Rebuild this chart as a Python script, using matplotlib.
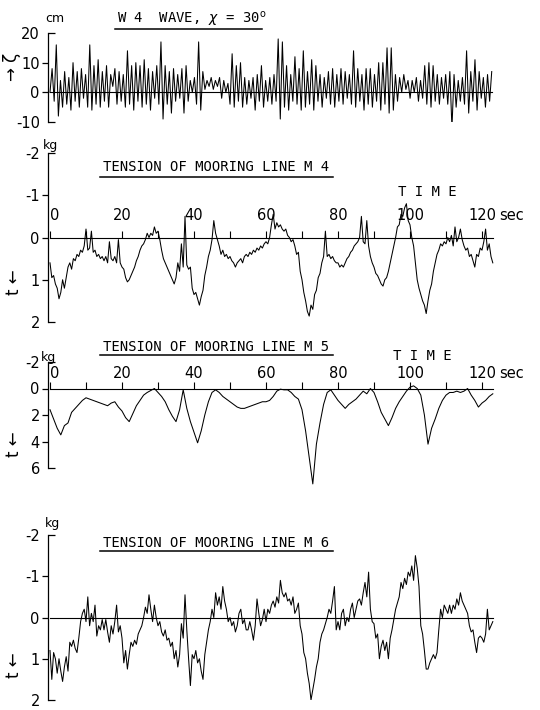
import numpy as np
import matplotlib
matplotlib.use("Agg")
import matplotlib.pyplot as plt
from matplotlib.lines import Line2D

plt.rcParams["font.family"] = ["DejaVu Sans Mono", "DejaVu Sans"]
plt.rcParams["axes.unicode_minus"] = False
plt.rcParams["mathtext.fontset"] = "dejavusans"

# =========================================================
# DATA
# =========================================================

# wave elevation, cm - successive crests / troughs
wave_cm = [
    0, 8, -3, 16, -8, 4, -5, 7, -4, 5, -6, 10, -3, 7, -5, 8, -2, 6,
    -5, 16, -6, 9, -4, 11, -5, 7, -3, 9, -5, 6, 2, 8, -4, 7, -3, 6,
    -5, 14, -4, 9, -6, 10, -3, 9, -5, 11, -4, 8, -6, 7, -2, 9, -4, 17,
    -9, 9, -4, 7, -7, 8, -3, 6, -2, 8, -7, 9, -3, 4, 0, 5, -4, 17,
    -6, 7, 1, 4, 2, 5, 1, 4, 2, 5, -2, 4, 0, 3, -4, 13, -5, 9,
    -3, 10, -5, 5, -4, 4, -2, 5, -6, 6, -3, 9, -5, 4, -3, 5, -4, 6,
    -3, 18, -9, 17, -5, 9, -6, 6, -3, 12, -4, 8, -6, 14, -5, 7, -4, 11,
    -6, 9, -3, 6, -5, 5, -2, 7, -4, 8, -5, 6, -3, 8, -4, 7, -2, 6,
    -4, 14, -5, 8, -3, 6, -6, 8, -4, 8, -5, 6, -3, 10, -6, 10, -4, 15,
    -7, 15, -6, 6, -3, 5, 0, 6, 1, 4, -2, 4, 0, 5, -3, 4, -2, 9,
    -4, 10, -5, 9, -3, 6, -4, 5, -2, 6, -4, 7, -12, 6, -5, 4, -3, 5,
    -4, 14, -7, 7, -3, 11, -6, 7, -2, 5, -5, 6, -3, 7,
]

# tension M4, kg (every 0.5 s)
m4_kg = [
    0.6, 0.95, 0.9, 1.1, 1.2, 1.45, 1.3, 1.0, 1.2, 0.95,
    0.7, 0.6, 0.75, 0.5, 0.55, 0.4, 0.45, 0.3, 0.35, 0.2,
    -0.2, 0.3, 0.25, -0.15, 0.35, 0.3, 0.45, 0.4, 0.5, 0.45,
    0.55, 0.45, 0.6, 0.1, 0.5, 0.55, 0.45, 0.6, 0.05, 0.6,
    0.7, 0.75, 0.95, 1.05, 1.0, 0.9, 0.8, 0.7, 0.55, 0.45,
    0.3, 0.2, 0.15, 0.05, -0.1, 0.0, -0.1, -0.05, -0.25, -0.1,
    -0.15, 0.05, 0.3, 0.5, 0.6, 0.7, 0.8, 0.9, 1.0, 1.1,
    0.95, 0.6, 0.8, 0.15, 0.7, -0.5, 0.65, 0.75, 0.7, 1.2,
    1.35, 1.3, 1.45, 1.6, 1.4, 1.25, 0.9, 0.7, 0.45, 0.3,
    0.05, -0.4, -0.1, 0.05, 0.2, 0.4, 0.3, 0.45, 0.4, 0.5,
    0.45, 0.55, 0.6, 0.7, 0.6, 0.55, 0.5, 0.6, 0.45, 0.4,
    0.45, 0.35, 0.4, 0.3, 0.35, 0.25, 0.3, 0.2, 0.25, 0.15,
    0.1, 0.15, 0.0, -0.3, -0.55, -0.2, -0.35, -0.25, -0.3, -0.2,
    -0.15, -0.2, -0.05, 0.0, 0.1, 0.05, 0.2, 0.4, 0.35, 0.8,
    1.0, 1.3, 1.5, 1.75, 1.86, 1.6, 1.7, 1.35, 1.25, 0.95,
    0.85, 0.6, 0.45, -0.15, 0.45, 0.4, 0.5, 0.45, 0.55, 0.6,
    0.6, 0.7, 0.65, 0.7, 0.6, 0.5, 0.45, 0.35, 0.3, 0.2,
    0.15, 0.1, 0.0, -0.5, 0.1, 0.15, -0.4, 0.2, 0.45, 0.6,
    0.7, 0.85, 0.9, 1.0, 1.1, 1.15, 1.0, 0.95, 0.8, 0.6,
    0.4, 0.2, 0.0, -0.25, -0.3, -0.55, -0.5, -0.7, -0.8, -0.4,
    -0.3, 0.0, 0.2, 0.6, 1.0, 1.2, 1.35, 1.5, 1.6, 1.8,
    1.5, 1.25, 1.1, 0.8, 0.6, 0.4, 0.3, 0.15, 0.2, 0.1,
    0.15, 0.0, 0.1, -0.05, 0.2, -0.25, 0.1, 0.0, -0.2, 0.05,
    0.2, 0.3, 0.25, 0.45, 0.4, 0.55, 0.7, 0.4, 0.45, 0.25,
    0.3, 0.1, -0.2, 0.3, 0.15, 0.45, 0.6,
]

# tension M5, kg (every 1 s)
m5_kg = [
    1.6, 2.3, 3.0, 3.5, 2.8, 2.6, 1.8, 1.5, 1.2, 0.9,
    0.7, 0.8, 0.9, 1.0, 1.1, 1.2, 1.3, 1.1, 1.0, 1.4,
    1.7, 2.2, 2.5, 1.9, 1.3, 0.9, 0.5, 0.3, 0.15, 0.0,
    0.3, 0.6, 1.0, 1.6, 2.1, 2.5, 1.6, 0.1, 1.5, 2.5,
    3.3, 4.1, 3.2, 2.0, 1.0, 0.3, 0.1, 0.3, 0.6, 0.8,
    1.0, 1.2, 1.4, 1.5, 1.5, 1.4, 1.3, 1.2, 1.1, 1.0,
    1.0, 0.9, 0.6, 0.2, 0.05, 0.1, 0.1, 0.3, 0.6, 0.8,
    1.6, 3.2, 5.2, 7.2, 4.2, 2.6, 1.2, 0.3, 0.1, 0.5,
    0.9, 1.2, 1.5, 1.2, 1.0, 0.8, 0.5, 0.2, 0.4, 0.0,
    0.3, 1.0, 1.8, 2.3, 2.8, 2.2, 1.5, 1.0, 0.6, 0.2,
    -0.1, -0.2, 0.0, 0.5, 2.0, 4.2, 3.0, 2.3, 1.5, 0.9,
    0.5, 0.3, 0.3, 0.2, 0.3, 0.2, 0.0, 0.5, 0.9, 1.4,
    1.1, 0.9, 0.6, 0.4,
]

# tension M6, kg (every 0.5 s)
m6_kg = [
    0.8, 1.5, 0.85, 1.0, 1.35, 1.0, 1.3, 1.55, 1.2, 0.95,
    1.3, 0.6, 0.7, 0.55, 0.75, 0.85, 0.5, 0.1, -0.1, -0.2,
    0.1, -0.5, 0.2, -0.1, 0.1, -0.3, 0.45, 0.2, 0.3, 0.05,
    0.3, 0.05, 0.35, 0.6, 0.2, 0.4, 0.1, -0.3, 0.35, 0.2,
    0.5, 1.1, 0.8, 1.25, 0.9, 0.6, 0.7, 0.55, 0.65, 0.4,
    0.3, 0.2, 0.0, -0.25, -0.1, -0.55, -0.2, 0.1, -0.3, 0.0,
    0.2, 0.1, 0.35, 0.45, 0.3, 0.55, 0.5, 0.7, 0.6, 1.0,
    0.8, 1.2, 0.9, 0.15, 0.5, -0.55, 0.3, 1.0, 1.65, 0.9,
    1.0, 0.8, 1.1, 1.0, 1.3, 1.5, 0.9, 0.6, 0.3, 0.1,
    -0.2, 0.0, -0.6, -0.3, -0.5, -0.2, -0.75, -0.4, -0.2, 0.1,
    0.0, 0.2, 0.1, 0.35, 0.2, -0.1, -0.2, 0.15, 0.05, 0.3,
    0.3, 0.1, 0.3, 0.55, 0.2, -0.45, -0.1, 0.2, 0.05, -0.2,
    0.1, -0.2, -0.1, -0.3, -0.4, -0.25, -0.5, -0.35, -0.9, -0.6,
    -0.5, -0.6, -0.4, -0.45, -0.3, -0.5, -0.1, -0.2, -0.35, 0.2,
    0.4, 0.85, 1.0, 1.35, 1.6, 2.0, 1.75, 1.5, 1.2, 1.0,
    0.6, 0.4, 0.3, 0.15, 0.0, -0.2, -0.1, -0.4, -0.75, 0.3,
    0.1, 0.3, -0.1, -0.2, 0.2, 0.0, 0.1, -0.2, -0.35, 0.0,
    -0.2, -0.4, -0.45, -0.3, -0.6, -0.85, -0.5, -1.1, -0.2, 0.1,
    0.15, 0.5, 0.4, 1.0, 0.7, 0.55, 0.8, 0.6, 1.0, 0.5,
    0.3, 0.05, -0.2, -0.35, -0.5, -0.85, -0.7, -0.95, -0.8, -1.1,
    -1.0, -1.25, -0.9, -1.5, -1.2, -0.75, 0.2, 0.4, 0.8, 1.25,
    1.25, 1.1, 1.0, 0.9, 1.0, 0.85, 0.3, -0.2, 0.0, -0.3,
    -0.2, -0.1, -0.3, -0.1, -0.3, -0.2, -0.45, -0.3, -0.6, -0.4,
    -0.3, -0.2, -0.1, 0.2, 0.35, 0.3, 0.6, 0.85, 0.5, 0.45,
    0.5, 0.6, 0.4, -0.2, 0.3, 0.2, 0.1,
]

time_labels = [0, 20, 40, 60, 80, 100, 120]

t_wave = np.linspace(0, 122.7, len(wave_cm))
t_m4 = np.linspace(0, 123, len(m4_kg))
t_m5 = np.linspace(0, 123, len(m5_kg))
t_m6 = np.linspace(0, 123, len(m6_kg))

# =========================================================
# FIGURE / HELPERS (positions in pixels of the 540x710 page)
# =========================================================

W, H = 540, 710
NUM_FONT = "DejaVu Sans"
fig = plt.figure(figsize=(5.4, 7.1), dpi=100)


def px_axes(top, bottom, left=48.2, right=500):
    return fig.add_axes([left / W, 1 - bottom / H,
                         (right - left) / W, (bottom - top) / H])


def fig_text(x, y, s, **kw):
    kw.setdefault("va", "center")
    kw.setdefault("ha", "left")
    fig.text(x / W, 1 - y / H, s, **kw)


def underline(x0, x1, y):
    fig.add_artist(Line2D([x0 / W, x1 / W], [1 - y / H] * 2,
                          color="black", lw=1.1))


def style(ax, ylim, mid, ends, t_end, time_axis=False, label_pad=-20):
    ax.set_xlim(-0.5, 125)
    ax.set_ylim(*ylim)
    ax.patch.set_alpha(0)
    ax.spines["top"].set_visible(False)
    ax.spines["right"].set_visible(False)
    ax.spines["left"].set_linewidth(0.9)
    # zero line = bottom spine moved to 0
    ax.spines["bottom"].set_position(("data", 0))
    ax.spines["bottom"].set_bounds(0, t_end)
    ax.spines["bottom"].set_linewidth(0.8)

    ax.set_yticks(mid)
    ax.set_yticklabels([str(v) for v in mid], family=NUM_FONT)
    ax.set_yticks(ends, minor=True)
    ax.set_yticklabels([str(v) for v in ends], minor=True, family=NUM_FONT)
    ax.tick_params(axis="y", which="major", direction="out", length=4,
                   width=0.9, labelsize=10.5, pad=2)
    ax.tick_params(axis="y", which="minor", direction="in", length=5,
                   width=0.9, labelsize=10.5, pad=6)

    if time_axis:
        ax.set_xticks(time_labels)
        labels = ax.set_xticklabels([str(v) for v in time_labels],
                                    family=NUM_FONT)
        labels[0].set_ha("left")
        ax.set_xticks([10, 30, 50, 70, 90, 110], minor=True)
        ax.tick_params(axis="x", which="both", direction="in", length=5,
                       width=0.8, labelsize=10.5, pad=label_pad)
    else:
        ax.set_xticks([])
        ax.set_xticks([], minor=True)


# =========================================================
# WAVE
# =========================================================

ax1 = px_axes(33, 122)
ax1.plot(t_wave, wave_cm, color="black", lw=0.75)
style(ax1, (-10, 20), [10, 0], [20, -10], t_wave[-1])
fig_text(45, 19, "cm", fontsize=9, family=NUM_FONT)
fig_text(117, 19, r"W 4  WAVE, $\chi$ = 30$^{\rm o}$", fontsize=10)
underline(115, 262, 29)
fig_text(12, 67, "→ ζ", rotation=90, ha="center", fontsize=12,
         family=NUM_FONT)

# =========================================================
# M4
# =========================================================

ax2 = px_axes(153, 322)
ax2.plot(t_m4, m4_kg, color="black", lw=0.75)
style(ax2, (2, -2), [-1, 0, 1], [-2, 2], t_m4[-1], time_axis=True,
      label_pad=-21)
fig_text(43, 146, "kg", fontsize=9, family=NUM_FONT)
fig_text(103, 167, "TENSION OF MOORING LINE M 4", fontsize=10)
underline(100, 333, 177)
fig_text(398, 192, "T I M E", fontsize=10)
fig_text(499, 216, "sec", fontsize=10.5, family=NUM_FONT)
fig_text(14, 282, "t ←", rotation=90, ha="center", fontsize=12,
         family=NUM_FONT)

# =========================================================
# M5
# =========================================================

ax3 = px_axes(362, 468)
ax3.plot(t_m5, m5_kg, color="black", lw=0.75, clip_on=False)
style(ax3, (6, -2), [0, 2, 4], [-2, 6], t_m5[-1], time_axis=True,
      label_pad=-16)
fig_text(41, 357, "kg", fontsize=9, family=NUM_FONT)
fig_text(103, 347, "TENSION OF MOORING LINE M 5", fontsize=10)
underline(100, 333, 355)
fig_text(393, 356, "T I M E", fontsize=10)
fig_text(499, 373, "sec", fontsize=10.5, family=NUM_FONT)
fig_text(14, 444, "t ←", rotation=90, ha="center", fontsize=12,
         family=NUM_FONT)

# =========================================================
# M6
# =========================================================

ax4 = px_axes(535, 700)
ax4.plot(t_m6, m6_kg, color="black", lw=0.75)
style(ax4, (2, -2), [-1, 0, 1], [-2, 2], t_m6[-1])
fig_text(45, 523, "kg", fontsize=9, family=NUM_FONT)
fig_text(103, 543, "TENSION OF MOORING LINE M 6", fontsize=10)
underline(100, 333, 551)
fig_text(14, 665, "t ←", rotation=90, ha="center", fontsize=12,
         family=NUM_FONT)

fig.savefig("out.png", dpi=100)
